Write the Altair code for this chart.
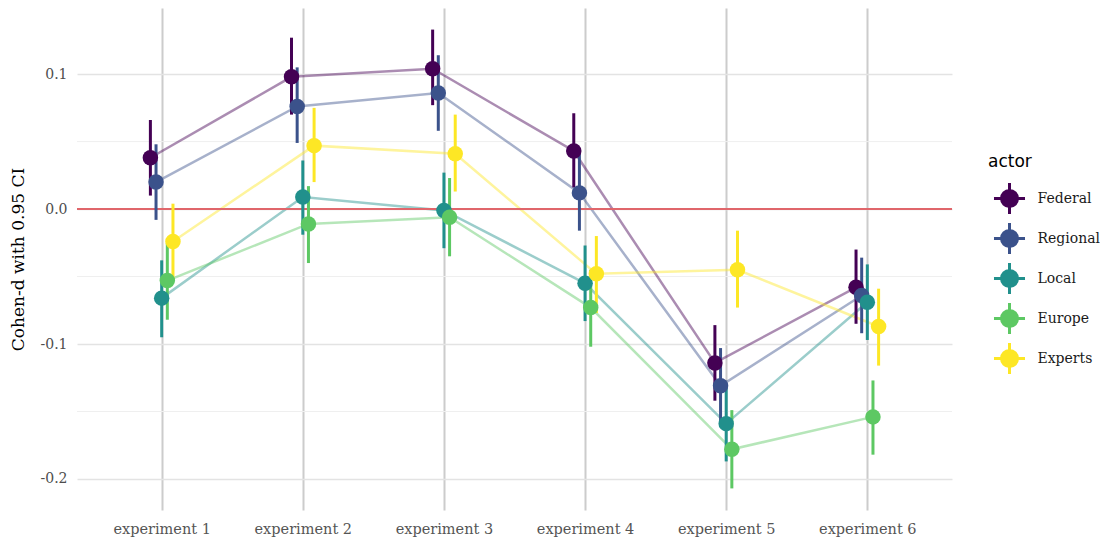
import altair as alt
import pandas as pd

experiments = ["experiment 1", "experiment 2", "experiment 3", "experiment 4", "experiment 5", "experiment 6"]
actors = ["Federal", "Regional", "Local", "Europe", "Experts"]
colors = ["#440154", "#3B528B", "#21908C", "#5DC863", "#FDE725"]

d_federal = [0.038, 0.098, 0.104, 0.043, -0.114, -0.058]
lo_federal = [0.010, 0.070, 0.077, 0.016, -0.142, -0.085]
hi_federal = [0.066, 0.127, 0.133, 0.071, -0.086, -0.030]

d_regional = [0.020, 0.076, 0.086, 0.012, -0.131, -0.064]
lo_regional = [-0.008, 0.049, 0.058, -0.016, -0.159, -0.092]
hi_regional = [0.048, 0.105, 0.114, 0.041, -0.103, -0.036]

d_local = [-0.066, 0.009, -0.001, -0.055, -0.159, -0.069]
lo_local = [-0.095, -0.019, -0.029, -0.083, -0.187, -0.097]
hi_local = [-0.038, 0.036, 0.027, -0.027, -0.131, -0.041]

d_europe = [-0.053, -0.011, -0.006, -0.073, -0.178, -0.154]
lo_europe = [-0.082, -0.040, -0.035, -0.102, -0.207, -0.182]
hi_europe = [-0.025, 0.017, 0.023, -0.045, -0.149, -0.127]

d_experts = [-0.024, 0.047, 0.041, -0.048, -0.045, -0.087]
lo_experts = [-0.053, 0.020, 0.013, -0.077, -0.073, -0.116]
hi_experts = [0.004, 0.075, 0.070, -0.020, -0.016, -0.059]

y_ticks = [-0.2, -0.1, 0.0, 0.1]
minor_grid = [0.05, -0.05, -0.15]
zero_line = [0.0]

series = {
    "Federal": (d_federal, lo_federal, hi_federal),
    "Regional": (d_regional, lo_regional, hi_regional),
    "Local": (d_local, lo_local, hi_local),
    "Europe": (d_europe, lo_europe, hi_europe),
    "Experts": (d_experts, lo_experts, hi_experts),
}

rows = []
for a_i, actor in enumerate(actors):
    d, lo, hi = series[actor]
    for e_i, exp in enumerate(experiments):
        rows.append({"experiment": exp, "exp_idx": e_i + 1, "actor": actor,
                     "actor_idx": a_i, "d": d[e_i], "lo": lo[e_i], "hi": hi[e_i]})
df = pd.DataFrame(rows)

dodge = 0.04
base = alt.Chart(df).transform_calculate(
    xpos=f"datum.exp_idx + (datum.actor_idx - 2) * {dodge}"
)

x_scale = alt.Scale(domain=[0.4, 6.6], nice=False, zero=False)
y_scale = alt.Scale(domain=[-0.223, 0.149], nice=False, zero=False)

sym_path = ("M-0.5,0A0.5,0.5,0,1,0,0.5,0A0.5,0.5,0,1,0,-0.5,0Z "
            "M-0.97,0L0.97,0M0,-0.97L0,0.97")

color = alt.Color(
    "actor:N",
    scale=alt.Scale(domain=actors, range=colors),
    legend=alt.Legend(
        title="actor", orient="none", legendX=911, legendY=146,
        symbolType=sym_path, symbolSize=1024, symbolStrokeWidth=3,
        symbolOffset=4, labelOffset=10.5, rowPadding=-12, titlePadding=10,
        labelFont="DejaVu Serif", labelFontSize=14, labelColor="#1a1a1a",
        titleFont="DejaVu Sans", titleFontSize=17, titleFontWeight="normal",
        titleColor="#000000", padding=0, symbolOpacity=1,
    ),
)

x_enc = alt.X(
    "xpos:Q", scale=x_scale, title=None,
    axis=alt.Axis(values=[1, 2, 3, 4, 5, 6], labelExpr="'experiment ' + datum.value",
                  grid=True, gridColor="#cccccc", gridWidth=2, domain=False, ticks=False,
                  labelPadding=12, labelFont="DejaVu Serif", labelFontSize=14.5,
                  labelColor="#555555"),
)

minor = alt.Chart(pd.DataFrame({"y": minor_grid})).mark_rule(
    color="#efefef", strokeWidth=1
).encode(y=alt.Y("y:Q", scale=y_scale))

lines = base.mark_line(strokeWidth=2.5, opacity=0.45).encode(
    x=x_enc,
    y=alt.Y("d:Q", scale=y_scale,
            title="Cohen-d with 0.95 CI",
            axis=alt.Axis(values=y_ticks,
                          labelExpr="replace(format(datum.value, '.1f'), '\u2212', '-')",
                          grid=True, gridColor="#e3e3e3", gridWidth=1.5,
                          domain=False, ticks=False, labelPadding=10,
                          labelFont="DejaVu Serif", labelFontSize=14, labelColor="#4d4d4d",
                          titleFont="DejaVu Serif", titleFontSize=17,
                          titleFontWeight="normal", titleColor="#000000",
                          titleX=-50)),
    color=color,
    detail="actor:N",
)

zero = alt.Chart(pd.DataFrame({"y": zero_line})).mark_rule(
    color="#e0666b", strokeWidth=2
).encode(y=alt.Y("y:Q", scale=y_scale))

bars = base.mark_rule(strokeWidth=3).encode(
    x=alt.X("xpos:Q", scale=x_scale),
    y=alt.Y("lo:Q", scale=y_scale),
    y2="hi:Q",
    color=color,
)

points = base.mark_circle(size=240, opacity=1).encode(
    x=alt.X("xpos:Q", scale=x_scale),
    y=alt.Y("d:Q", scale=y_scale),
    color=color,
)

chart = alt.layer(minor, lines, zero, bars, points).properties(
    width=875, height=502,
    background="white",
    autosize=alt.AutoSizeParams(type="none"),
    padding={"left": 69, "top": 0, "right": 148, "bottom": 28},
).configure_view(stroke=None, strokeWidth=0)

chart.save("out.html", embed_options={"renderer": "svg", "actions": False})
